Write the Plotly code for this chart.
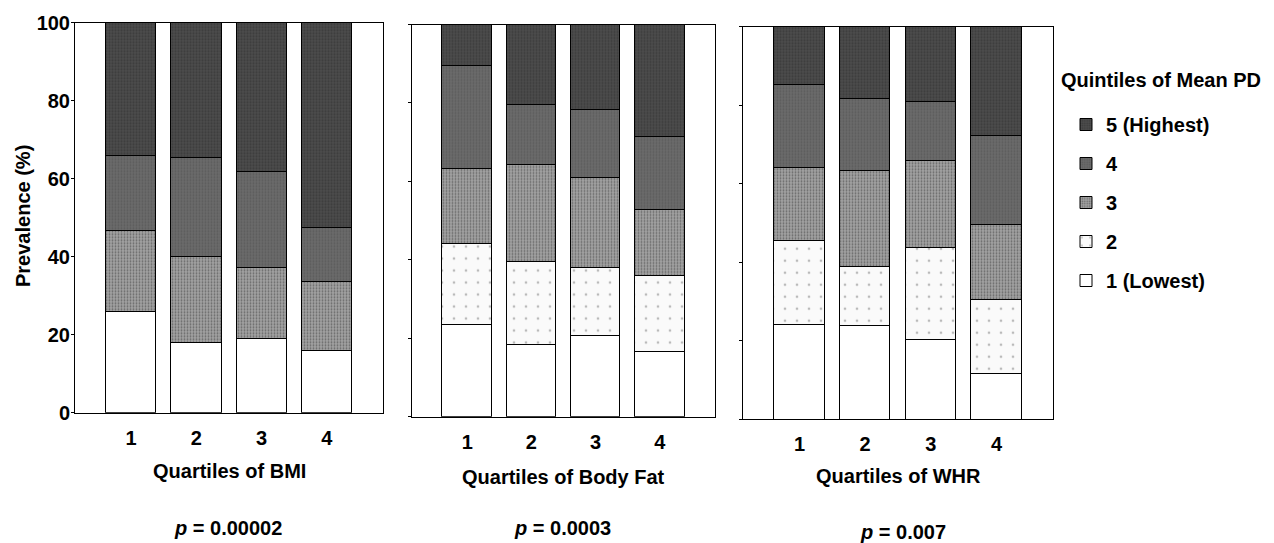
import plotly.graph_objects as go

quartiles = ["1", "2", "3", "4"]
levels = ["1 (Lowest)", "2", "3", "4", "5 (Highest)"]

# segment heights (%) per quintile of mean PD, for each quartile
bmi_q1 = [26.0, 18.0, 19.0, 16.0]
bmi_q2 = [0.0, 0.0, 0.0, 0.0]
bmi_q3 = [20.7, 22.0, 18.2, 17.5]
bmi_q4 = [19.2, 25.3, 24.5, 14.0]
bmi_q5 = [34.1, 34.7, 38.3, 52.5]

fat_q1 = [23.5, 18.3, 20.8, 16.7]
fat_q2 = [20.7, 21.2, 17.3, 19.2]
fat_q3 = [19.1, 24.9, 22.9, 16.9]
fat_q4 = [26.3, 15.2, 17.3, 18.7]
fat_q5 = [10.4, 20.4, 21.7, 28.5]

whr_q1 = [24.0, 23.8, 20.4, 11.7]
whr_q2 = [21.5, 15.1, 23.2, 18.7]
whr_q3 = [18.7, 24.3, 22.2, 19.2]
whr_q4 = [21.0, 18.4, 15.1, 22.6]
whr_q5 = [14.8, 18.4, 19.1, 27.8]

panel_titles = ["Quartiles of BMI", "Quartiles of Body Fat", "Quartiles of WHR"]
p_values = ["0.00002", "0.0003", "0.007"]

panels = [
    [bmi_q1, bmi_q2, bmi_q3, bmi_q4, bmi_q5],
    [fat_q1, fat_q2, fat_q3, fat_q4, fat_q5],
    [whr_q1, whr_q2, whr_q3, whr_q4, whr_q5],
]

styles = [
    dict(color="#ffffff", pattern=dict(shape="")),
    dict(color="#fafafa", pattern=dict(shape=".", fgcolor="#7a7a7a", size=12, solidity=0.04)),
    dict(color="#a2a2a2", pattern=dict(shape=".", fgcolor="#2e2e2e", size=3, solidity=0.3)),
    dict(color="#6a6a6a", pattern=dict(shape=".", fgcolor="#4c4c4c", size=3, solidity=0.3)),
    dict(color="#4c4c4c", pattern=dict(shape=".", fgcolor="#2a2a2a", size=3, solidity=0.4)),
]

# page body has an 8px margin: figure sized so it ends at the window edge
OFF = 8
FW, FH = 1274 - OFF, 543 - OFF


def fx(x):
    return (x - OFF) / FW


def fy(y):
    return 1 - (y - OFF) / FH


xdom = [(75, 383), (412, 715), (743, 1053)]
ydom = [(22.7, 412.7), (24.5, 416.7), (26.7, 419.3)]
title_y = [471, 477, 476]
p_x = [228, 562, 903]
p_y = [528, 528, 532]

FONT = "Liberation Sans"
FS = 20
fig = go.Figure()

for pi, data in enumerate(panels):
    xa = "x" if pi == 0 else f"x{pi+1}"
    ya = "y" if pi == 0 else f"y{pi+1}"
    for li, vals in enumerate(data):
        st = styles[li]
        fig.add_trace(go.Bar(
            x=quartiles, y=vals, name=f"<b>{levels[li]}</b>",
            xaxis=xa, yaxis=ya, width=0.77,
            legendgroup=levels[li], showlegend=(pi == 0), legendrank=5 - li,
            marker=dict(color=st["color"], pattern=st["pattern"],
                        line=dict(color="black", width=1)),
        ))

layout = dict(
    width=FW, height=FH, barmode="stack", bargap=0,
    margin=dict(l=0, r=0, t=0, b=0, autoexpand=False),
    paper_bgcolor="white", plot_bgcolor="white",
    font=dict(family=FONT, color="black"),
    legend=dict(
        x=fx(1066), y=fy(105), xanchor="left", yanchor="top",
        font=dict(size=FS, family=FONT), traceorder="grouped",
        tracegroupgap=10, bgcolor="rgba(0,0,0,0)",
    ),
)

annotations = []
for pi in range(3):
    xk = "xaxis" if pi == 0 else f"xaxis{pi+1}"
    yk = "yaxis" if pi == 0 else f"yaxis{pi+1}"
    x0, x1 = xdom[pi]
    y0, y1 = ydom[pi]
    layout[xk] = dict(
        domain=[fx(x0), fx(x1)], range=[0.14, 4.86], type="linear",
        tickvals=[1, 2, 3, 4], ticktext=[f"<b>{q}</b>" for q in quartiles],
        ticks="", tickfont=dict(size=FS, family=FONT), ticklabelstandoff=7,
        showline=True, mirror=True, linecolor="black", linewidth=1, automargin=False,
        showgrid=False, zeroline=False, anchor="y" if pi == 0 else f"y{pi+1}",
    )
    layout[yk] = dict(
        domain=[fy(y1), fy(y0)], range=[0, 100],
        tickvals=[0, 20, 40, 60, 80, 100],
        ticktext=[f"<b>{v}</b>" for v in [0, 20, 40, 60, 80, 100]],
        showticklabels=(pi == 0), ticks="outside", ticklen=3, tickcolor="black",
        tickfont=dict(size=FS, family=FONT), ticklabelstandoff=-3, automargin=False,
        showline=True, mirror=True, linecolor="black", linewidth=1,
        showgrid=False, zeroline=False, anchor="x" if pi == 0 else f"x{pi+1}",
    )
    annotations.append(dict(
        x=fx((x0 + x1) / 2), y=fy(title_y[pi]), xref="paper", yref="paper",
        text=f"<b>{panel_titles[pi]}</b>", showarrow=False,
        font=dict(size=FS, family=FONT), xanchor="center", yanchor="middle"))
    annotations.append(dict(
        x=fx(p_x[pi]), y=fy(p_y[pi]), xref="paper", yref="paper",
        text=f"<b><i>p</i> = {p_values[pi]}</b>", showarrow=False,
        font=dict(size=FS, family=FONT), xanchor="center", yanchor="middle"))

annotations.append(dict(
    x=fx(23), y=fy(216), xref="paper", yref="paper",
    text="<b>Prevalence (%)</b>", showarrow=False, textangle=-90,
    font=dict(size=FS, family=FONT), xanchor="center", yanchor="middle"))

annotations.append(dict(
    x=fx(1059), y=fy(80), xref="paper", yref="paper",
    text="<b>Quintiles of Mean PD</b>", showarrow=False,
    font=dict(size=FS, family=FONT), xanchor="left", yanchor="middle"))

layout["annotations"] = annotations
fig.update_layout(**layout)
fig.write_html("out.html")
